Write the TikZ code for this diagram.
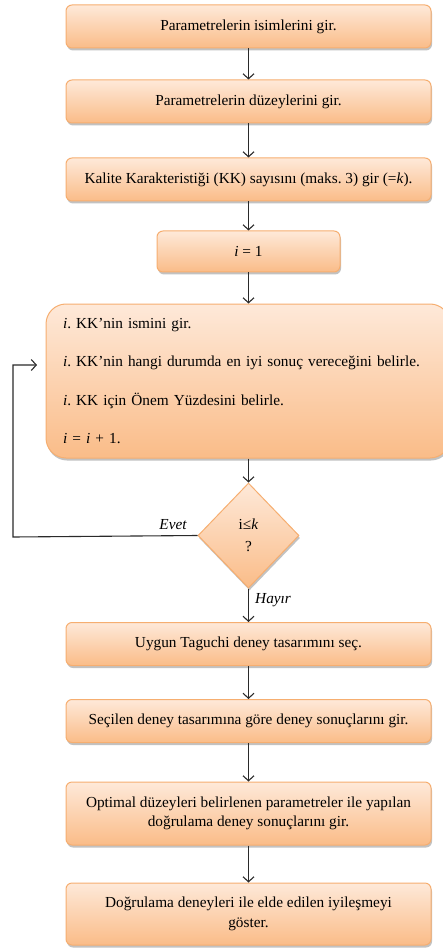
\documentclass[tikz,border=0pt]{standalone}
\usepackage{fontspec}
\setmainfont{Liberation Serif}
\frenchspacing
\usetikzlibrary{arrows.meta,shapes.geometric,shadows}
\definecolor{boxtop}{HTML}{FEE9D9}
\definecolor{boxbot}{HTML}{FABC88}
\definecolor{boxline}{HTML}{F6AE70}
\definecolor{linecol}{HTML}{2A2A2A}
\tikzset{
  flowbox/.style={rectangle, rounded corners=6pt, draw=boxline, line width=1pt,
    top color=boxtop, bottom color=boxbot, minimum width=365pt, minimum height=43pt,
    font=\fontsize{15.3}{19.5}\selectfont, align=center, inner sep=2pt,
    drop shadow={shadow xshift=1pt, shadow yshift=-2.5pt, opacity=0.4, fill=black!60}},
  conn/.style={draw=linecol, line width=1.1pt, -{Straight Barb[length=5pt,width=11pt,line width=1.1pt]}},
  lbl/.style={font=\fontsize{15.3}{18}\selectfont\itshape, inner sep=0pt}
}
\begin{document}
\begin{tikzpicture}[x=1pt,y=-1pt]
\useasboundingbox (0,0) rectangle (443,949);
\begin{scope}
\clip (0,0) rectangle (443,949);
\node[flowbox] (b1) at (248.5,26.5) {Parametrelerin isimlerini gir.};
\node[flowbox] (b2) at (248.5,101.5) {Parametrelerin düzeylerini gir.};
\node[flowbox] (b3) at (248.5,179.5) {Kalite Karakteristiği (KK) sayısını (maks. 3) gir (=\textit{k}).};
\node[flowbox, minimum width=183pt, minimum height=41pt] (b4) at (248.5,251.5) {\textit{i} = 1};
\node[flowbox, rounded corners=20pt, minimum width=404pt, minimum height=154pt,
      text width=370pt, align=left, inner xsep=17pt, font=\fontsize{15.3}{18}\selectfont] (big) at (248,381)
  {\textit{i}. KK’nin ismini gir.\\[20.5pt]
   \textit{i}. KK’nin hangi durumda en iyi sonuç vereceğini belirle.\\[20.5pt]
   \textit{i}. KK için Önem Yüzdesini belirle.\\[20.5pt]
   \textit{i} = \textit{i} + 1.};
\node[flowbox, diamond, minimum width=101pt, minimum height=105pt, inner sep=0pt,
      rounded corners=0pt, text width=30pt, font=\fontsize{15.3}{18}\selectfont] (dia) at (248.5,535.5) {i≤\textit{k}\\[4pt]?};
\node[flowbox] (b5) at (248.5,644) {Uygun Taguchi deney tasarımını seç.};
\node[flowbox] (b6) at (248.5,721) {Seçilen deney tasarımına göre deney sonuçlarını gir.};
\node[flowbox, minimum height=63pt] (b7) at (248.5,813.5) {Optimal düzeyleri belirlenen parametreler ile yapılan\\doğrulama deney sonuçlarını gir.};
\node[flowbox, minimum height=62pt] (b8) at (248.5,914) {Doğrulama deneyleri ile elde edilen iyileşmeyi\\göster.};
\end{scope}
\draw[conn] (b1.south) -- (b2.north);
\draw[conn] (b2.south) -- (b3.north);
\draw[conn] (b3.south) -- (b4.north);
\draw[conn] (b4.south) -- (big.north -| b4.south);
\draw[conn] (big.south -| dia.north) -- (dia.north);
\draw[conn] (dia.south) -- (b5.north);
\draw[conn] (b5.south) -- (b6.north);
\draw[conn] (b6.south) -- (b7.north);
\draw[conn] (b7.south) -- (b8.north);
\coordinate (loopend) at (37,365);
\draw[conn] (dia.west) -- (13,537) -- (13,365) -- (loopend);
\node[lbl, anchor=south] (evet) at (173,530) {Evet};
\node[lbl, anchor=west] (hayir) at (255,600) {Hayır};
\end{tikzpicture}
\end{document}
